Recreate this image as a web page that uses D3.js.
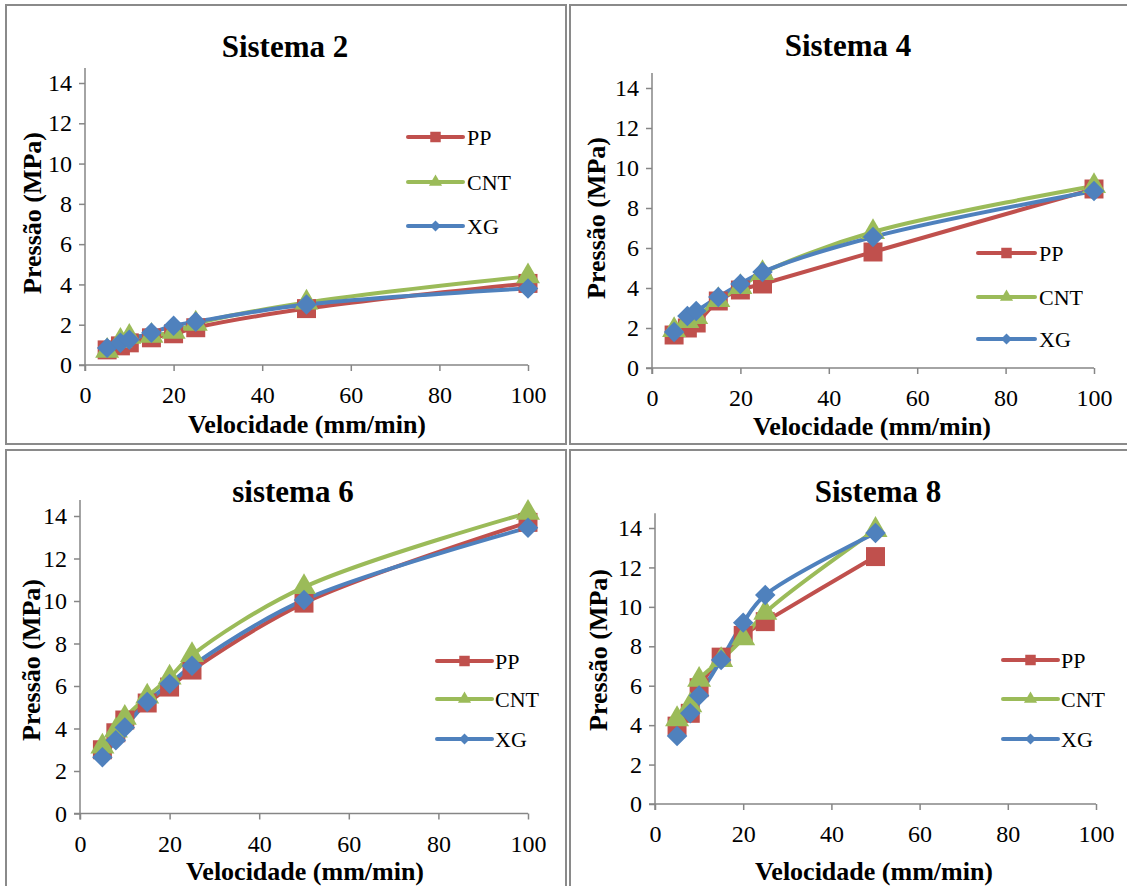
<!DOCTYPE html>
<html><head><meta charset="utf-8">
<script src="https://cdn.jsdelivr.net/npm/d3@7/dist/d3.min.js"></script>
<style>body{margin:0;background:#fff;}svg{display:block;}</style>
</head><body><svg id="c" width="1127" height="886"></svg>
<script>
const velocities = [5, 8, 10, 15, 20, 25, 50, 100];
const velocities8 = [5, 8, 10, 15, 20, 25, 50];
const seriesNames = ["PP", "CNT", "XG"];
const xTicks = [0, 20, 40, 60, 80, 100];
const yTicks = [0, 2, 4, 6, 8, 10, 12, 14];
const titles = ["Sistema 2", "Sistema 4", "sistema 6", "Sistema 8"];
const xTitle = "Velocidade (mm/min)";
const yTitle = "Pressão (MPa)";

const s2PP  = [0.75, 0.95, 1.1, 1.35, 1.55, 1.85, 2.8, 4.05];
const s2CNT = [0.7, 1.2, 1.4, 1.45, 1.65, 2.05, 3.1, 4.4];
const s2XG  = [0.85, 1.1, 1.25, 1.6, 1.95, 2.15, 3.0, 3.8];

const s4PP  = [1.65, 2.0, 2.25, 3.35, 3.9, 4.2, 5.8, 8.95];
const s4CNT = [1.9, 2.35, 2.55, 3.4, 4.05, 4.75, 6.8, 9.1];
const s4XG  = [1.8, 2.6, 2.85, 3.55, 4.2, 4.8, 6.55, 8.85];

const s6PP  = [3.0, 3.8, 4.4, 5.2, 5.95, 6.75, 9.9, 13.7];
const s6CNT = [3.15, 3.9, 4.5, 5.5, 6.4, 7.45, 10.65, 14.15];
const s6XG  = [2.65, 3.45, 4.05, 5.25, 6.1, 6.95, 10.05, 13.45];

const s8PP  = [3.95, 4.6, 5.9, 7.45, 8.55, 9.25, 12.55];
const s8CNT = [4.3, 5.0, 6.3, 7.3, 8.4, 9.7, 13.9];
const s8XG  = [3.45, 4.6, 5.5, 7.3, 9.2, 10.6, 13.75];

const colors = {PP: "#C0504D", CNT: "#9BBB59", XG: "#4F81BD"};
const markers = {PP: d3.symbolSquare, CNT: d3.symbolTriangle, XG: d3.symbolSquare};
const rot = {PP: 0, CNT: 0, XG: 45};
const FONT = "'Liberation Serif'";

const panels = [
  {title: titles[0], x: velocities, data: [s2PP, s2CNT, s2XG],
   box: [6, 5, 566, 444], xr: [85, 528], yr: [365, 83], tt: [285, 57], xt: [307, 433], yt: [41, 213],
   leg: {x1: 408, x2: 463, tx: 467, ys: [137, 182, 226]}},
  {title: titles[1], x: velocities, data: [s4PP, s4CNT, s4XG],
   box: [570, 5, 1130, 444], xr: [652, 1094], yr: [368, 88], tt: [848, 56], xt: [872, 435], yt: [605, 218],
   leg: {x1: 978, x2: 1035, tx: 1039, ys: [253, 297, 339]}},
  {title: titles[2], x: velocities, data: [s6PP, s6CNT, s6XG],
   box: [6, 450, 566, 890], xr: [80, 528], yr: [813.5, 516], tt: [293, 502], xt: [305, 880], yt: [40, 660],
   leg: {x1: 437, x2: 492, tx: 495, ys: [661, 699, 739]}},
  {title: titles[3], x: velocities8, data: [s8PP, s8CNT, s8XG],
   box: [570, 450, 1130, 890], xr: [655, 1096], yr: [804, 528], tt: [878, 502], xt: [874, 880], yt: [607, 650],
   leg: {x1: 1003, x2: 1058, tx: 1061, ys: [660, 699, 739]}}
];

const svg = d3.select("#c");
const axisColor = "#868686";

panels.forEach(p => {
  const g = svg.append("g");
  g.append("rect").attr("x", p.box[0]).attr("y", p.box[1])
    .attr("width", p.box[2] - p.box[0]).attr("height", p.box[3] - p.box[1])
    .attr("fill", "none").attr("stroke", "#8a8a8a").attr("stroke-width", 2);

  const x = d3.scaleLinear().domain([0, 100]).range(p.xr);
  const y = d3.scaleLinear().domain([0, 14]).range(p.yr);
  const yTopPx = y(14.75);

  const xa = g.append("g").attr("transform", `translate(0,${p.yr[0]})`)
    .call(d3.axisBottom(x).tickValues(xTicks).tickSize(6).tickPadding(15).tickSizeOuter(0));
  const ya = g.append("g").attr("transform", `translate(${p.xr[0]},0)`)
    .call(d3.axisLeft(y).tickValues(yTicks).tickSize(6).tickPadding(7).tickSizeOuter(0));
  [xa, ya].forEach(a => {
    a.attr("font-family", null).attr("font-size", null);
    a.select(".domain").remove();
    a.selectAll("line").attr("stroke", axisColor).attr("stroke-width", 1.5);
    a.selectAll("text").attr("fill", "#000").attr("font-family", FONT).attr("font-size", 24);
  });
  g.append("line").attr("x1", p.xr[0] - 6).attr("x2", p.xr[1]).attr("y1", p.yr[0]).attr("y2", p.yr[0])
    .attr("stroke", axisColor).attr("stroke-width", 1.5);
  g.append("line").attr("x1", p.xr[0]).attr("x2", p.xr[0]).attr("y1", p.yr[0] + 6).attr("y2", yTopPx)
    .attr("stroke", axisColor).attr("stroke-width", 1.5);

  g.append("text").attr("x", p.tt[0]).attr("y", p.tt[1]).attr("text-anchor", "middle")
    .attr("font-family", FONT).attr("font-size", 31).attr("font-weight", "bold").text(p.title);
  g.append("text").attr("x", p.xt[0]).attr("y", p.xt[1]).attr("text-anchor", "middle")
    .attr("font-family", FONT).attr("font-size", 26).attr("font-weight", "bold").text(xTitle);
  g.append("text").attr("transform", `translate(${p.yt[0]},${p.yt[1]}) rotate(-90)`)
    .attr("text-anchor", "middle").attr("font-family", FONT).attr("font-size", 26).attr("font-weight", "bold").text(yTitle);

  const line = d3.line().x(d => x(d[0])).y(d => y(d[1])).curve(d3.curveCatmullRom.alpha(0.5));
  seriesNames.forEach((name, i) => {
    const pts = p.x.map((v, j) => [v, p.data[i][j]]);
    g.append("path").datum(pts).attr("d", line).attr("fill", "none")
      .attr("stroke", colors[name]).attr("stroke-width", 4).attr("stroke-linejoin", "round").attr("stroke-linecap", "round");
  });
  const sizes = {PP: 360, CNT: 250, XG: 210};
  seriesNames.forEach((name, i) => {
    const pts = p.x.map((v, j) => [v, p.data[i][j]]);
    g.selectAll(null).data(pts).enter().append("path")
      .attr("transform", d => `translate(${x(d[0])},${y(d[1])}) rotate(${rot[name]})`)
      .attr("d", d3.symbol().type(markers[name]).size(sizes[name]))
      .attr("fill", colors[name]);
  });

  seriesNames.forEach((name, i) => {
    const ly = p.leg.ys[i];
    g.append("line").attr("x1", p.leg.x1).attr("x2", p.leg.x2).attr("y1", ly).attr("y2", ly)
      .attr("stroke", colors[name]).attr("stroke-width", 4).attr("stroke-linecap", "round");
    g.append("path").attr("transform", `translate(${(p.leg.x1 + p.leg.x2) / 2},${ly}) rotate(${rot[name]})`)
      .attr("d", d3.symbol().type(markers[name]).size(name === "PP" ? 110 : name === "CNT" ? 75 : 60)).attr("fill", colors[name]);
    g.append("text").attr("x", p.leg.tx).attr("y", ly).attr("dy", "0.35em")
      .attr("font-family", FONT).attr("font-size", 22).text(name);
  });
});
</script></body></html>
